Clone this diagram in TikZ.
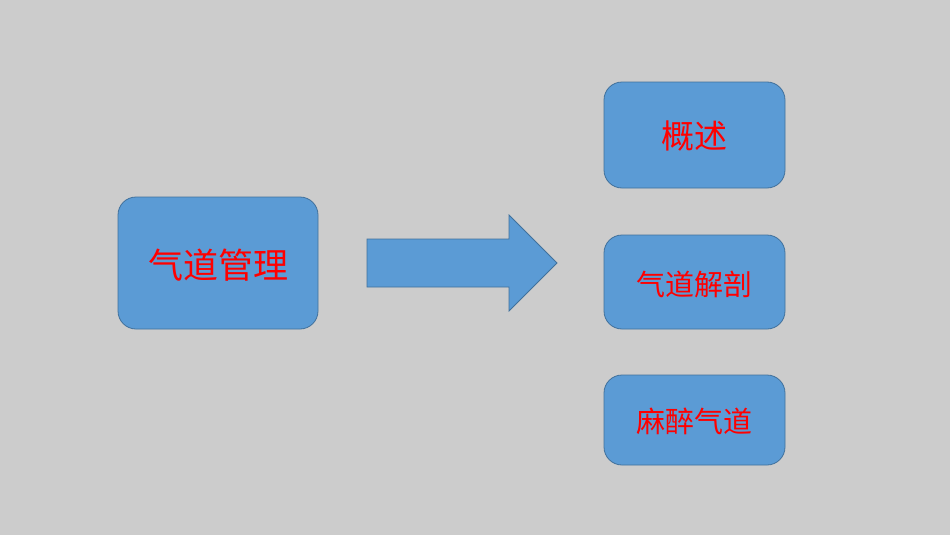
\documentclass[tikz,border=0pt]{standalone}
\usepackage{fontspec}
\newfontfamily\cjk{Noto Sans CJK SC}
\begin{document}
\begin{tikzpicture}[x=1pt,y=-1pt]
\definecolor{bfill}{HTML}{5B9BD5}
\definecolor{bline}{HTML}{41719C}
\definecolor{bg}{HTML}{CCCCCC}
\tikzset{box/.style={fill=bfill,draw=bline,line width=0.8pt,rounded corners=18pt},
lbl/.style={text=red,font=\cjk}}
\fill[bg] (0,0) rectangle (950,535);
\useasboundingbox (0,0) rectangle (950,535);
\draw[box] (118,197) rectangle (318,329);
\node[lbl,font=\cjk\fontsize{35}{40}\selectfont] (main) at (218,265) {气道管理};
\draw[fill=bfill,draw=bline,line width=0.8pt] (367,239) -- (509,239) -- (509,215) -- (557,263) -- (509,311) -- (509,287) -- (367,287) -- cycle;
\draw[box] (604,82) rectangle (785,188);
\node[lbl,font=\cjk\fontsize{33}{38}\selectfont] (a) at (694.5,136) {概述};
\draw[box] (604,235) rectangle (785,329);
\node[lbl,font=\cjk\fontsize{29}{34}\selectfont] (b) at (694.5,284) {气道解剖};
\draw[box] (604,375) rectangle (785,465);
\node[lbl,font=\cjk\fontsize{29}{34}\selectfont] (c) at (694.5,421) {麻醉气道};
\end{tikzpicture}
\end{document}
